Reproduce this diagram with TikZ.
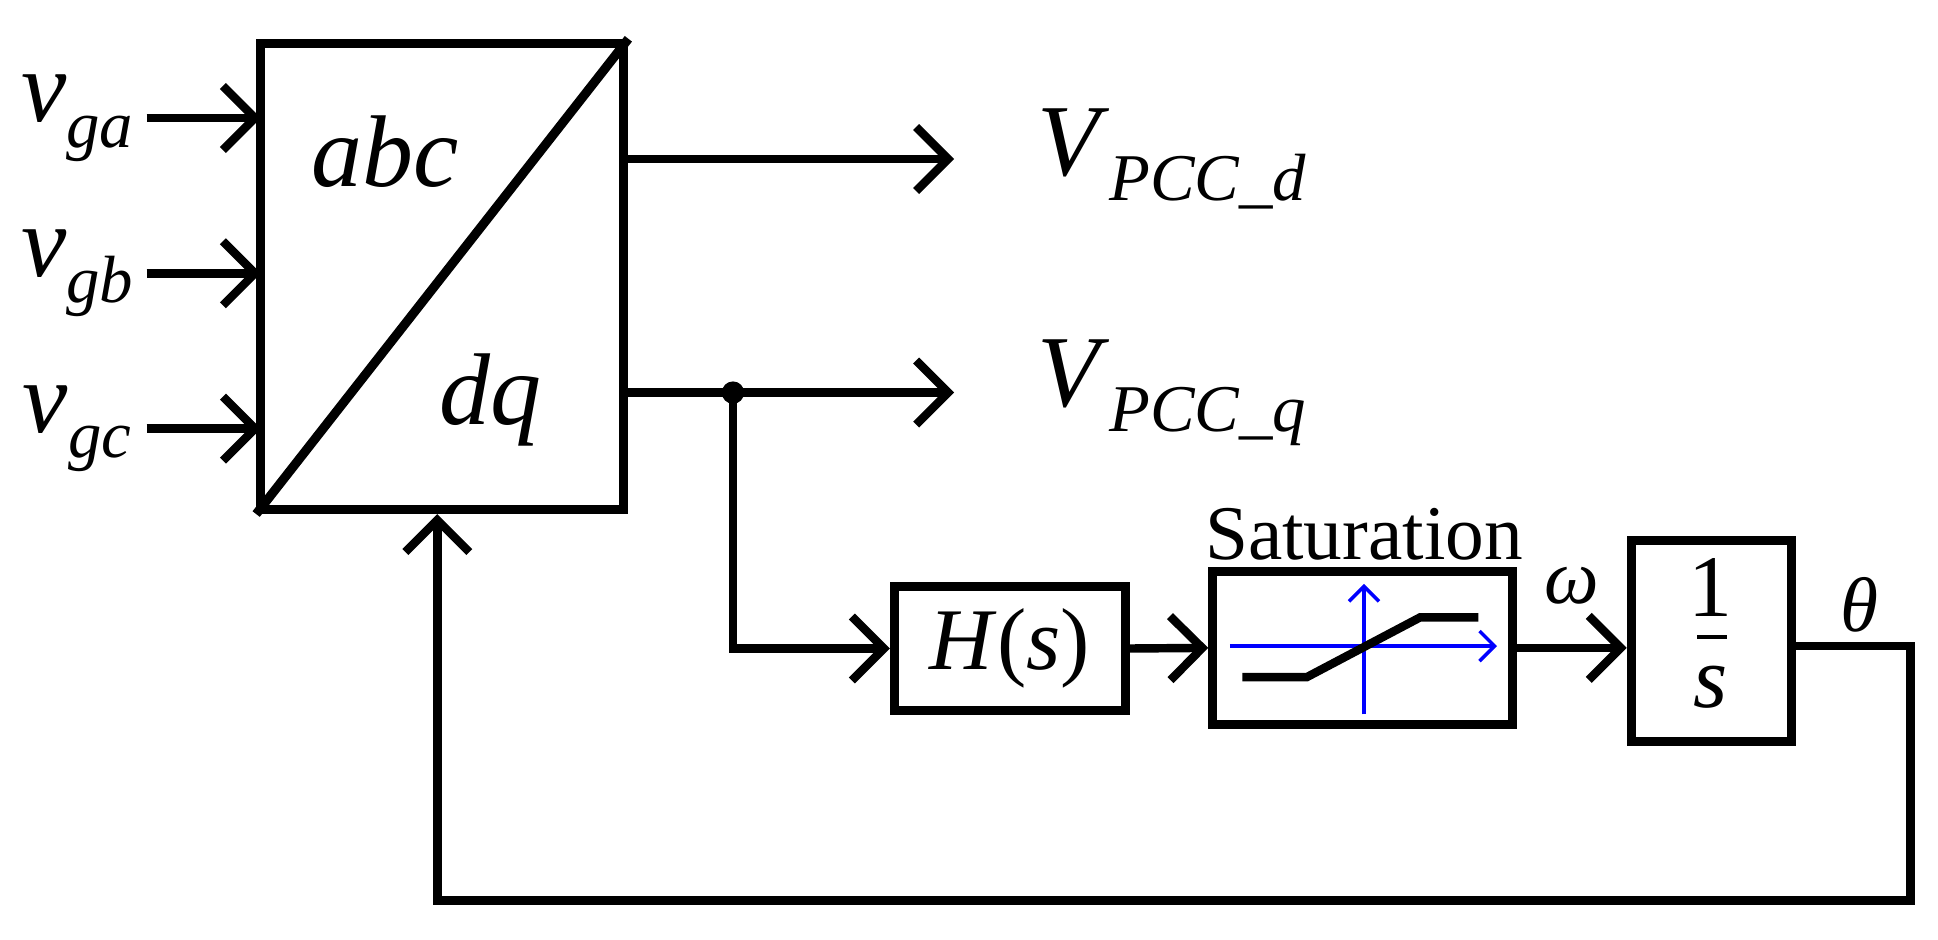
\documentclass[tikz,border=0pt]{standalone}
\usepackage{fontspec}
\setmainfont{Liberation Serif}
\usetikzlibrary{calc, arrows.meta}
\newcommand{\sub}[2]{\textit{#1}\raisebox{-0.25em}{\fontsize{19}{19}\selectfont\textit{#2}}}

\begin{document}
\begin{tikzpicture}[x=0.1242mm,y=-0.1242mm,>={Straight Barb[length=3.2mm,width=6.4mm]},line width=2.4pt]
          \useasboundingbox (0,0) rectangle (1560,756);
          \tikzset{blk/.style={draw, line width=2.6pt, inner sep=0pt},
                   lbl/.style={font=\fontsize{29}{29}\selectfont}}

          % transform block
          \node [blk, minimum width=36.3mm, minimum height=46.6mm] (T) at (356,222.5) {};
          \draw [line width=2.6pt] (T.south west) -- (T.north east);
          \node [lbl] (abc) at (310,122) {\textit{abc}};
          \node [lbl] (dq) at (395,322) {\textit{dq}};

          % inputs
          \node [lbl] (va) at (62,95) {\sub{v}{ga}};
          \node [lbl] (vb) at (62,220) {\sub{v}{gb}};
          \node [lbl] (vc) at (62,345) {\sub{v}{gc}};
          \coordinate (ia) at (210,95);
          \coordinate (ib) at (210,220);
          \coordinate (ic) at (210,345);
          \draw [->] (118,95) -- (ia);
          \draw [->] (118,220) -- (ib);
          \draw [->] (118,345) -- (ic);

          % outputs
          \coordinate (od) at (502,128);
          \coordinate (oq) at (502,316);
          \coordinate (ed) at (768,128);
          \coordinate (eq) at (768,316);
          \node [lbl, anchor=west] (Vd) at (822,128) {\sub{V}{PCC\_d}};
          \node [lbl, anchor=west] (Vq) at (822,316) {\sub{V}{PCC\_q}};
          \draw [->] (od) -- (ed);
          \draw [->] (oq) -- (eq);
          \coordinate (J) at (590,316);
          \fill (J) circle (9);

          % loop blocks
          \node [blk, minimum width=23.1mm, minimum height=12.4mm, font=\fontsize{25}{25}\selectfont] (H) at (813,522) {\textit{H}(\textit{s})};
          \node [blk, minimum width=30mm, minimum height=15.3mm] (S) at (1097,521.5) {};
          \node [font=\fontsize{22}{22}\selectfont] (St) at (1098,430) {Saturation};
          \node [blk, minimum width=16mm, minimum height=20.1mm] (I) at (1377.5,516) {};
          \node [font=\fontsize{25}{25}\selectfont] (one) at (1377,473) {1};
          \node [font=\fontsize{25}{25}\selectfont] (s) at (1377,553) {\textit{s}};
          \draw [line width=1.2pt] (1366,513) -- (1390,513);

          % saturation icon
          \draw [blue, line width=1pt, ->, >={Straight Barb[length=1.5mm,width=3mm]}] (990,520) -- (1205,520);
          \draw [blue, line width=1pt, ->, >={Straight Barb[length=1.5mm,width=3mm]}] (1098,575) -- (1098,470);
          \draw (1000,545) -- (1052,545) -- (1143,497) -- (1190,497);

          \draw [->] (J) |- (H.west);
          \draw [->] (H.east) -- (S.west);
          \draw [->] (S.east) -- node[above=8pt, font=\fontsize{22}{22}\selectfont]{\textit{ω}} (I.west |- S.east);
          \coordinate (R) at (1538,520);
          \coordinate (B) at (352,725);
          \node [font=\fontsize{22}{22}\selectfont] (th) at (1497,487) {\textit{θ}};
          \draw [->] (I.east |- R) -- (R) |- (B) -- (B |- T.south);
      \end{tikzpicture}
\end{document}
